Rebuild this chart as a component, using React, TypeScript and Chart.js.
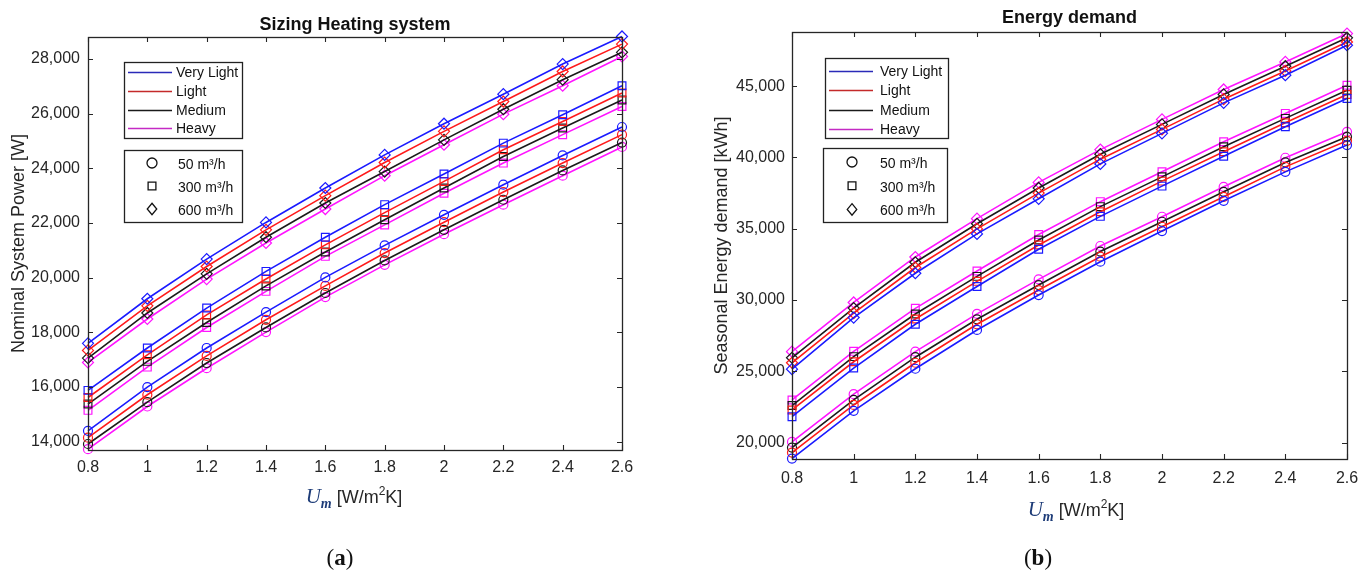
import React, { useEffect, useRef } from 'react';
import { Chart, registerables } from 'chart.js';

Chart.register(...registerables);

const SANS = "'Liberation Sans', Arial, sans-serif";
const SERIF = "'Liberation Serif', 'DejaVu Serif', serif";

// ---------------- data ----------------
const UM = [0.8, 1.0, 1.2, 1.4, 1.6, 1.8, 2.0, 2.2, 2.4, 2.6];
const X_TICKS = [0.8, 1, 1.2, 1.4, 1.6, 1.8, 2, 2.2, 2.4, 2.6];
const POWER_TICKS = [14000, 16000, 18000, 20000, 22000, 24000, 26000, 28000];
const ENERGY_TICKS = [20000, 25000, 30000, 35000, 40000, 45000];

const WEIGHTS = ['Very Light', 'Light', 'Medium', 'Heavy'];
const WEIGHT_COLORS = ['#1a1aff', '#ff1a1a', '#1a1a1a', '#ff14ff'];
const LEGEND_LINE_COLORS = ['#2a2ab8', '#c42a2a', '#1a1a1a', '#c42ac4'];
const FLOWS = ['50 m³/h', '300 m³/h', '600 m³/h'];
const FLOW_MARKERS = ['circle', 'rect', 'rectRot'];

// Nominal System Power [W]
const power50VeryLight = [14400, 16000, 17430, 18740, 20010, 21180, 22300, 23400, 24470, 25510];
const power50Light = [14150, 15720, 17140, 18460, 19700, 20900, 22030, 23130, 24190, 25230];
const power50Medium = [13920, 15450, 16880, 18180, 19440, 20630, 21750, 22850, 23920, 24940];
const power50Heavy = [13730, 15290, 16690, 18010, 19290, 20470, 21590, 22670, 23730, 24780];
const power300VeryLight = [15880, 17430, 18890, 20230, 21480, 22670, 23790, 24920, 25960, 27020];
const power300Light = [15620, 17180, 18640, 19950, 21200, 22380, 23520, 24680, 25710, 26750];
const power300Medium = [15380, 16940, 18360, 19700, 20940, 22120, 23280, 24430, 25470, 26500];
const power300Heavy = [15150, 16730, 18180, 19500, 20780, 21930, 23090, 24190, 25230, 26260];
const power600VeryLight = [17600, 19230, 20680, 22020, 23280, 24490, 25630, 26710, 27810, 28820];
const power600Light = [17340, 18970, 20410, 21750, 23000, 24210, 25350, 26440, 27540, 28540];
const power600Medium = [17060, 18710, 20140, 21480, 22730, 23880, 25040, 26160, 27240, 28240];
const power600Heavy = [16900, 18490, 19950, 21270, 22510, 23730, 24860, 25980, 27020, 28090];

// Seasonal Energy demand [kWh]
const energy50VeryLight = [18880, 22230, 25180, 27900, 30350, 32690, 34840, 36960, 38990, 40870];
const energy50Light = [19300, 22640, 25600, 28300, 30700, 33040, 35140, 37240, 39340, 41170];
const energy50Medium = [19650, 23000, 25990, 28650, 31050, 33400, 35490, 37590, 39650, 41450];
const energy50Heavy = [20050, 23400, 26380, 29030, 31450, 33790, 35840, 37940, 39980, 41800];
const energy300VeryLight = [21820, 25230, 28300, 30950, 33560, 35870, 37990, 40090, 42150, 44140];
const energy300Light = [22290, 25670, 28670, 31310, 33860, 36190, 38340, 40400, 42430, 44420];
const energy300Medium = [22600, 26030, 29020, 31660, 34210, 36550, 38640, 40750, 42740, 44720];
const energy300Heavy = [22990, 26400, 29420, 32040, 34600, 36900, 39000, 41100, 43090, 45070];
const energy600VeryLight = [25150, 28770, 31880, 34640, 37100, 39550, 41690, 43830, 45770, 47870];
const energy600Light = [25600, 29080, 32280, 34990, 37500, 39880, 41970, 44090, 46070, 48100];
const energy600Medium = [25950, 29440, 32650, 35350, 37860, 40230, 42320, 44420, 46400, 48390];
const energy600Heavy = [26380, 29830, 33020, 35710, 38250, 40550, 42670, 44770, 46700, 48690];

const POWER_TABLE = [
  [power50VeryLight, power50Light, power50Medium, power50Heavy],
  [power300VeryLight, power300Light, power300Medium, power300Heavy],
  [power600VeryLight, power600Light, power600Medium, power600Heavy],
];
const ENERGY_TABLE = [
  [energy50VeryLight, energy50Light, energy50Medium, energy50Heavy],
  [energy300VeryLight, energy300Light, energy300Medium, energy300Heavy],
  [energy600VeryLight, energy600Light, energy600Medium, energy600Heavy],
];

// ---------------- panel layout ----------------
type Panel = {
  table: number[][][];
  yTicks: number[];
  yMin: number;
  yMax: number;
  padTop: number;
  padRight: number;
  yAxisWidth: number;
  xAxisHeight: number;
  xTickPad: number;
  yTickPad: number;
  title: string;
  titleBaseline: number;
  yLabel: string;
  yLabelX: number;
  xLabelCx: number;
  xLabelBaseline: number;
  panelLetter: string;
  panelCx: number;
  panelBaseline: number;
  leg1: { x: number; y: number; w: number; h: number; row0: number; rowStep: number; lineX0: number; lineX1: number; textX: number };
  leg2: { x: number; y: number; w: number; h: number; row0: number; rowStep: number; markX: number; textX: number };
};

const LEFT: Panel = {
  table: POWER_TABLE,
  yTicks: POWER_TICKS,
  yMin: 13700,
  yMax: 28800,
  padTop: 37,
  padRight: 68,
  yAxisWidth: 88,
  xAxisHeight: 124,
  xTickPad: 8,
  yTickPad: 8,
  title: 'Sizing Heating system',
  titleBaseline: 29.5,
  yLabel: 'Nominal System Power [W]',
  yLabelX: 19.5,
  xLabelCx: 354,
  xLabelBaseline: 503,
  panelLetter: 'a',
  panelCx: 340,
  panelBaseline: 565,
  leg1: { x: 124, y: 62, w: 118, h: 76, row0: 72, rowStep: 18.8, lineX0: 128, lineX1: 172, textX: 176 },
  leg2: { x: 124, y: 150, w: 118, h: 72, row0: 163, rowStep: 23, markX: 152, textX: 178 },
};

const RIGHT: Panel = {
  table: ENERGY_TABLE,
  yTicks: ENERGY_TICKS,
  yMin: 18850,
  yMax: 48800,
  padTop: 32,
  padRight: 25,
  yAxisWidth: 102,
  xAxisHeight: 115,
  xTickPad: 10,
  yTickPad: 7,
  title: 'Energy demand',
  titleBaseline: 22.7,
  yLabel: 'Seasonal Energy demand [kWh]',
  yLabelX: 32,
  xLabelCx: 386,
  xLabelBaseline: 516,
  panelLetter: 'b',
  panelCx: 348,
  panelBaseline: 565,
  leg1: { x: 135, y: 58, w: 123, h: 80, row0: 71, rowStep: 19.3, lineX0: 139, lineX1: 183, textX: 190 },
  leg2: { x: 133, y: 148, w: 124, h: 74, row0: 162, rowStep: 23.7, markX: 162, textX: 190 },
};

function drawMarker(ctx: CanvasRenderingContext2D, style: string, x: number, y: number, r: number) {
  ctx.beginPath();
  if (style === 'circle') {
    ctx.arc(x, y, r, 0, Math.PI * 2);
  } else if (style === 'rect') {
    const s = r * 0.78;
    ctx.rect(x - s, y - s, 2 * s, 2 * s);
  } else {
    const hw = r * 0.95;
    const hh = r * 1.15;
    ctx.moveTo(x, y - hh);
    ctx.lineTo(x + hw, y);
    ctx.lineTo(x, y + hh);
    ctx.lineTo(x - hw, y);
    ctx.closePath();
  }
  ctx.stroke();
}

function decorPlugin(p: Panel) {
  return {
    id: 'decor_' + p.panelLetter,
    afterDraw(chart: any) {
      const ctx: CanvasRenderingContext2D = chart.ctx;
      const a = chart.chartArea;
      const xs = chart.scales.x;
      const ys = chart.scales.y;
      ctx.save();

      // axes box and inward ticks
      ctx.strokeStyle = '#262626';
      ctx.lineWidth = 1.3;
      ctx.strokeRect(Math.round(a.left) + 0.5, Math.round(a.top) + 0.5, Math.round(a.right - a.left), Math.round(a.bottom - a.top));
      ctx.lineWidth = 1.1;
      const tl = 5;
      ctx.beginPath();
      X_TICKS.forEach((v) => {
        const px = Math.round(xs.getPixelForValue(v)) + 0.5;
        ctx.moveTo(px, a.bottom);
        ctx.lineTo(px, a.bottom - tl);
        ctx.moveTo(px, a.top);
        ctx.lineTo(px, a.top + tl);
      });
      p.yTicks.forEach((v) => {
        const py = Math.round(ys.getPixelForValue(v)) + 0.5;
        ctx.moveTo(a.left, py);
        ctx.lineTo(a.left + tl, py);
        ctx.moveTo(a.right, py);
        ctx.lineTo(a.right - tl, py);
      });
      ctx.stroke();

      // title
      ctx.fillStyle = '#111111';
      ctx.font = `bold 18px ${SANS}`;
      ctx.textAlign = 'center';
      ctx.textBaseline = 'alphabetic';
      ctx.fillText(p.title, (a.left + a.right) / 2, p.titleBaseline);

      // y label
      ctx.save();
      ctx.translate(p.yLabelX, (a.top + a.bottom) / 2);
      ctx.rotate(-Math.PI / 2);
      ctx.font = `18px ${SANS}`;
      ctx.fillStyle = '#262626';
      ctx.textAlign = 'center';
      ctx.textBaseline = 'middle';
      ctx.fillText(p.yLabel, 0, 0);
      ctx.restore();

      // x label: U_m [W/m^2K]
      const parts = [
        { t: 'U', font: `italic 21px ${SERIF}`, dy: 0, color: '#1e3c78' },
        { t: 'm', font: `italic bold 14px ${SERIF}`, dy: 5, color: '#1e3c78' },
        { t: ' [W/m', font: `18px ${SANS}`, dy: 0, color: '#262626' },
        { t: '2', font: `12px ${SANS}`, dy: -8, color: '#262626' },
        { t: 'K]', font: `18px ${SANS}`, dy: 0, color: '#262626' },
      ];
      let total = 0;
      const widths = parts.map((q) => {
        ctx.font = q.font;
        const w = ctx.measureText(q.t).width;
        total += w;
        return w;
      });
      let cx = p.xLabelCx - total / 2;
      ctx.textAlign = 'left';
      ctx.textBaseline = 'alphabetic';
      parts.forEach((q, i) => {
        ctx.font = q.font;
        ctx.fillStyle = q.color;
        ctx.fillText(q.t, cx, p.xLabelBaseline + q.dy);
        cx += widths[i];
      });

      // panel letter (a)/(b)
      const pl = [
        { t: '(', font: `23px ${SERIF}` },
        { t: p.panelLetter, font: `bold 23px ${SERIF}` },
        { t: ')', font: `23px ${SERIF}` },
      ];
      let pt = 0;
      const pw = pl.map((q) => {
        ctx.font = q.font;
        const w = ctx.measureText(q.t).width;
        pt += w;
        return w;
      });
      let px0 = p.panelCx - pt / 2;
      ctx.fillStyle = '#111111';
      pl.forEach((q, i) => {
        ctx.font = q.font;
        ctx.fillText(q.t, px0, p.panelBaseline);
        px0 += pw[i];
      });

      // legend 1: weights (lines)
      const L1 = p.leg1;
      ctx.fillStyle = '#ffffff';
      ctx.fillRect(L1.x, L1.y, L1.w, L1.h);
      ctx.strokeStyle = '#222222';
      ctx.lineWidth = 1.3;
      ctx.strokeRect(L1.x + 0.5, L1.y + 0.5, L1.w, L1.h);
      ctx.font = `14px ${SANS}`;
      ctx.textBaseline = 'middle';
      ctx.textAlign = 'left';
      WEIGHTS.forEach((name, i) => {
        const ry = Math.round(L1.row0 + i * L1.rowStep) + 0.5;
        ctx.strokeStyle = LEGEND_LINE_COLORS[i];
        ctx.lineWidth = 1.5;
        ctx.beginPath();
        ctx.moveTo(L1.lineX0, ry);
        ctx.lineTo(L1.lineX1, ry);
        ctx.stroke();
        ctx.fillStyle = '#111111';
        ctx.fillText(name, L1.textX, ry + 1);
      });

      // legend 2: flows (markers)
      const L2 = p.leg2;
      ctx.fillStyle = '#ffffff';
      ctx.fillRect(L2.x, L2.y, L2.w, L2.h);
      ctx.strokeStyle = '#222222';
      ctx.lineWidth = 1.3;
      ctx.strokeRect(L2.x + 0.5, L2.y + 0.5, L2.w, L2.h);
      FLOWS.forEach((name, i) => {
        const ry = L2.row0 + i * L2.rowStep;
        ctx.strokeStyle = '#111111';
        ctx.lineWidth = 1.3;
        drawMarker(ctx, FLOW_MARKERS[i], L2.markX, ry, 5);
        ctx.fillStyle = '#111111';
        ctx.font = `14px ${SANS}`;
        ctx.fillText(name, L2.textX, ry + 2);
      });

      ctx.restore();
    },
  };
}

function buildConfig(p: Panel): any {
  const datasets: any[] = [];
  p.table.forEach((row, f) => {
    row.forEach((vals, w) => {
      datasets.push({
        label: `${WEIGHTS[w]} ${FLOWS[f]}`,
        data: UM.map((x, i) => ({ x, y: vals[i] })),
        borderColor: WEIGHT_COLORS[w],
        backgroundColor: 'rgba(0,0,0,0)',
        borderWidth: 1.6,
        pointStyle: FLOW_MARKERS[f],
        pointRadius: f === 0 ? 4.5 : 5.5,
        pointBorderWidth: 1.2,
        pointBorderColor: WEIGHT_COLORS[w],
        pointBackgroundColor: 'rgba(0,0,0,0)',
        tension: 0,
        fill: false,
        clip: false,
      });
    });
  });

  return {
    type: 'line',
    data: { datasets },
    options: {
      responsive: false,
      animation: false,
      devicePixelRatio: 1,
      layout: { padding: { left: 0, top: p.padTop, right: p.padRight, bottom: 0 } },
      plugins: {
        legend: { display: false },
        title: { display: false },
        tooltip: { enabled: false },
      },
      scales: {
        x: {
          type: 'linear',
          min: 0.8,
          max: 2.6,
          grid: { display: false, drawTicks: false },
          border: { display: false },
          ticks: {
            font: { family: SANS, size: 16 },
            color: '#262626',
            padding: p.xTickPad,
            maxRotation: 0,
            autoSkip: false,
            callback: (v: number) => String(Math.round(v * 10) / 10),
          },
          afterBuildTicks: (s: any) => {
            s.ticks = X_TICKS.map((v) => ({ value: v }));
          },
          afterFit: (s: any) => {
            s.height = p.xAxisHeight;
          },
        },
        y: {
          type: 'linear',
          min: p.yMin,
          max: p.yMax,
          grid: { display: false, drawTicks: false },
          border: { display: false },
          ticks: {
            font: { family: SANS, size: 16 },
            color: '#262626',
            padding: p.yTickPad,
            callback: (v: number) => Number(v).toLocaleString('en-US'),
          },
          afterBuildTicks: (s: any) => {
            s.ticks = p.yTicks.map((v) => ({ value: v }));
          },
          afterFit: (s: any) => {
            s.width = p.yAxisWidth;
          },
        },
      },
    },
    plugins: [decorPlugin(p)],
  };
}

export default function App() {
  const leftRef = useRef<HTMLCanvasElement>(null);
  const rightRef = useRef<HTMLCanvasElement>(null);

  useEffect(() => {
    const c1 = new Chart(leftRef.current as HTMLCanvasElement, buildConfig(LEFT));
    const c2 = new Chart(rightRef.current as HTMLCanvasElement, buildConfig(RIGHT));
    return () => {
      c1.destroy();
      c2.destroy();
    };
  }, []);

  return (
    <div style={{ position: 'absolute', left: 0, top: 0, width: 1372, height: 574, background: '#ffffff', overflow: 'hidden' }}>
      <canvas ref={leftRef} width={690} height={574} style={{ position: 'absolute', left: 0, top: 0, width: 690, height: 574 }} />
      <canvas ref={rightRef} width={682} height={574} style={{ position: 'absolute', left: 690, top: 0, width: 682, height: 574 }} />
    </div>
  );
}
